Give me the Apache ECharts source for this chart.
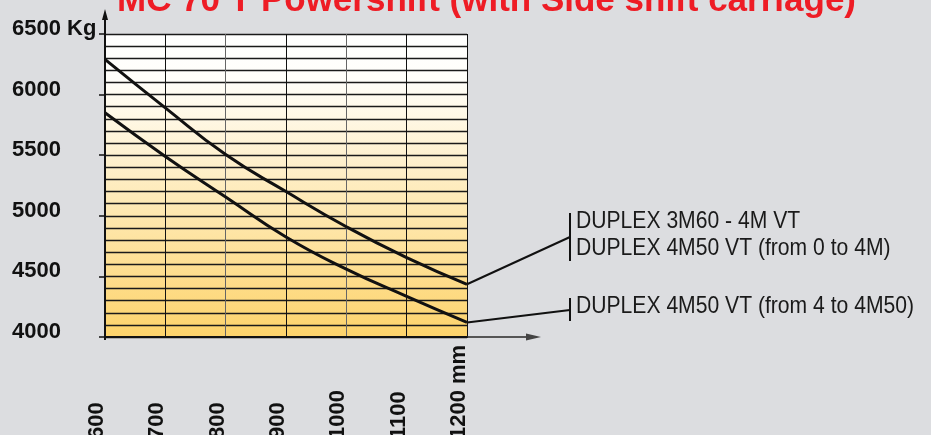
<!DOCTYPE html>
<html>
<head>
<meta charset="utf-8">
<script src="https://cdn.jsdelivr.net/npm/echarts@6/dist/echarts.min.js"></script>
<style>
  html, body { margin: 0; padding: 0; background: #dcdde0; }
  #chart { width: 931px; height: 435px; }
</style>
</head>
<body>
<div id="chart"></div>
<script>
// outreach in mm
const reach = [600, 700, 800, 900, 1000, 1100, 1200];
// capacity in Kg
const upperLoad = [6290, 5890, 5505, 5200, 4910, 4655, 4435];
const lowerLoad = [5850, 5490, 5155, 4825, 4560, 4335, 4120];
const upperNames = ['DUPLEX 3M60 - 4M VT', 'DUPLEX 4M50 VT (from 0 to 4M)'];
const lowerNames = ['DUPLEX 4M50 VT (from 4 to 4M50)'];
const titleText = 'MC 70 T Powershift (with Side shift carriage)';

const sans = "'Liberation Sans', Arial, sans-serif";
const chart = echarts.init(document.getElementById('chart'));

const option = {
  backgroundColor: '#dcdde0',
  animation: false,
  title: {
    text: titleText,
    left: 117,
    top: -16,
    padding: 0,
    textStyle: { color: '#ee1c25', fontSize: 35, fontWeight: 'bold', fontFamily: sans }
  },
  grid: {
    left: 105, right: 464, top: 34, bottom: 98,
    containLabel: false,
    outerBoundsMode: 'none',
    show: true,
    borderWidth: 0,
    backgroundColor: new echarts.graphic.LinearGradient(0, 0, 0, 1, [
      { offset: 0, color: '#ffffff' },
      { offset: 0.15, color: '#fffefa' },
      { offset: 1, color: '#fdd36b' }
    ])
  },
  xAxis: {
    type: 'value',
    min: 600, max: 1200, interval: 100,
    axisLine: { show: true, lineStyle: { color: '#111', width: 2 } },
    axisTick: { show: false },
    axisLabel: {
      rotate: 90,
      align: 'left',
      verticalAlign: 'bottom',
      lineHeight: 16,
      margin: 102,
      color: '#111',
      fontSize: 22,
      fontWeight: 'bold',
      fontFamily: sans,
      formatter: v => v === 1200 ? '1200 mm' : String(v)
    },
    splitLine: {
      show: true,
      lineStyle: { color: ['#111', '#111', '#666', '#111', '#666', '#111', '#111'], width: 1 }
    }
  },
  yAxis: {
    type: 'value',
    min: 4000, max: 6500, interval: 500,
    axisLine: { show: true, onZero: false, lineStyle: { color: '#111', width: 2 } },
    axisTick: { show: true, length: 6, lineStyle: { color: '#111', width: 1.5 } },
    minorTick: { show: false, splitNumber: 5 },
    axisLabel: {
      align: 'left',
      verticalAlign: 'bottom',
      lineHeight: 10,
      margin: 93,
      color: '#111',
      fontSize: 22,
      fontWeight: 'bold',
      fontFamily: sans,
      formatter: v => v === 6500 ? '6500 Kg' : String(v)
    },
    splitLine: { show: true, lineStyle: { color: '#1a1a1a', width: 1.3 } },
    minorSplitLine: { show: true, lineStyle: { color: '#1a1a1a', width: 1.3 } }
  },
  series: [
    {
      type: 'line',
      name: upperNames.join(' / '),
      data: reach.map((x, i) => [x, upperLoad[i]]),
      smooth: 0.5,
      symbol: 'none',
      lineStyle: { color: '#111', width: 3 }
    },
    {
      type: 'line',
      name: lowerNames[0],
      data: reach.map((x, i) => [x, lowerLoad[i]]),
      smooth: 0.5,
      symbol: 'none',
      lineStyle: { color: '#111', width: 3 }
    }
  ]
};
chart.setOption(option);

// axis arrows and callouts
const origin = chart.convertToPixel({ gridIndex: 0 }, [600, 4000]);
const corner = chart.convertToPixel({ gridIndex: 0 }, [1200, 4000]);
const upEnd = chart.convertToPixel({ seriesIndex: 0 }, [1200, upperLoad[upperLoad.length - 1]]);
const lowEnd = chart.convertToPixel({ seriesIndex: 1 }, [1200, lowerLoad[lowerLoad.length - 1]]);
const barX = 570;
const txt = (text, x, y) => ({
  type: 'text', x, y, scaleX: 0.88,
  style: { text, fill: '#1a1a1a', font: '24px ' + sans, verticalAlign: 'middle' }
});

chart.setOption({
  graphic: [
    { type: 'line', shape: { x1: origin[0], y1: origin[1] + 3, x2: origin[0], y2: 19 }, style: { stroke: '#111', lineWidth: 2 } },
    { type: 'polygon', shape: { points: [[origin[0] - 3, 20], [origin[0], 9], [origin[0] + 3, 20]] }, style: { fill: '#111' } },
    { type: 'line', shape: { x1: corner[0], y1: corner[1], x2: 530, y2: corner[1] }, style: { stroke: '#555', lineWidth: 2 } },
    { type: 'polygon', shape: { points: [[526, corner[1] - 3.5], [541, corner[1]], [526, corner[1] + 3.5]] }, style: { fill: '#444' } },

    { type: 'line', shape: { x1: upEnd[0], y1: upEnd[1], x2: barX, y2: 237 }, style: { stroke: '#111', lineWidth: 2 } },
    { type: 'line', shape: { x1: barX, y1: 213, x2: barX, y2: 261 }, style: { stroke: '#111', lineWidth: 2 } },
    txt(upperNames[0], 576, 221),
    txt(upperNames[1], 576, 248),

    { type: 'line', shape: { x1: lowEnd[0], y1: lowEnd[1], x2: barX, y2: 310 }, style: { stroke: '#111', lineWidth: 2 } },
    { type: 'line', shape: { x1: barX, y1: 298, x2: barX, y2: 321 }, style: { stroke: '#111', lineWidth: 2 } },
    txt(lowerNames[0], 576, 306)
  ]
});
</script>
</body>
</html>
